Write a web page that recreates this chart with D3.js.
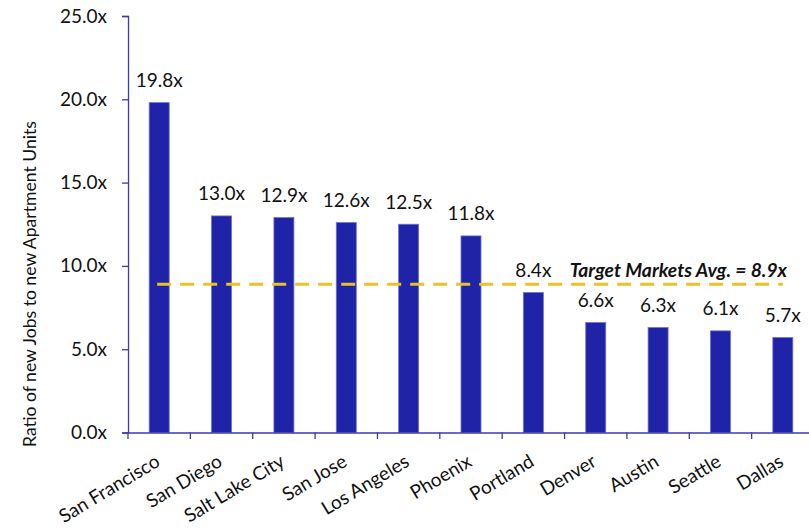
<!DOCTYPE html>
<html><head><meta charset="utf-8">
<script src="https://cdn.jsdelivr.net/npm/d3@7"></script>
<style>body{margin:0;background:#fff}svg text{font-family:Lato,"Open Sans",sans-serif}</style>
</head><body>
<svg id="c" width="809" height="530"></svg>
<script>
const categories=["San Francisco","San Diego","Salt Lake City","San Jose","Los Angeles","Phoenix","Portland","Denver","Austin","Seattle","Dallas"];
const values=[19.8,13.0,12.9,12.6,12.5,11.8,8.4,6.6,6.3,6.1,5.7];
const yTicks=[0,5,10,15,20,25];
const avgValue=8.9;
const avgLabel="Target Markets Avg. = 8.9x";
const yTitle="Ratio of new Jobs to new Apartment Units";

const svg=d3.select("#c");
const x=d3.scaleBand().domain(categories).range([128,814]).paddingInner(0).paddingOuter(0);
const y=d3.scaleLinear().domain([0,25]).range([432.5,16]);
const axisColor="#3a3ab0";
const barColor="#1f23a8";
const fs=19;

// bars
svg.append("g").selectAll("rect").data(values).join("rect")
  .attr("x",(d,i)=>x(categories[i])+x.bandwidth()/2-10)
  .attr("width",20)
  .attr("y",d=>y(d))
  .attr("height",d=>y(0)-y(d))
  .attr("fill",barColor)
  .attr("stroke","#6f72cc").attr("stroke-width",0.8);

// value labels
svg.append("g").selectAll("text").data(values).join("text")
  .attr("x",(d,i)=>x(categories[i])+x.bandwidth()/2)
  .attr("y",d=>y(d)-15.5)
  .attr("text-anchor","middle")
  .attr("font-size",fs).attr("fill","#111")
  .text(d=>d.toFixed(1)+"x");

// avg line
svg.append("line")
  .attr("x1",x(categories[0])+x.bandwidth()/2-2)
  .attr("x2",x(categories[categories.length-1])+x.bandwidth()/2)
  .attr("y1",y(avgValue)).attr("y2",y(avgValue))
  .attr("stroke","#e8c227").attr("stroke-width",3)
  .attr("stroke-dasharray","14,9");
svg.append("text")
  .attr("x",787).attr("y",y(avgValue)-7.5)
  .attr("text-anchor","end").attr("font-size",19.3)
  .attr("font-weight","bold").attr("font-style","italic").attr("fill","#111")
  .text(avgLabel);

// y axis
const ya=svg.append("g").attr("transform","translate(128,0)")
  .call(d3.axisLeft(y).tickValues(yTicks).tickSize(6).tickSizeOuter(6).tickFormat(d=>d.toFixed(1)+"x"));
ya.select(".domain").attr("stroke",axisColor).attr("stroke-width",1.3);
ya.selectAll(".tick line").attr("stroke",axisColor).attr("stroke-width",1.3);
ya.selectAll(".tick text").attr("font-size",fs).attr("fill","#111").attr("x",-21).style("font-family","Lato,sans-serif");

// x axis
const xa=svg.append("g").attr("transform","translate(0,432.5)")
  .call(d3.axisBottom(x).tickSize(0).tickSizeOuter(0));
xa.select(".domain").attr("stroke",axisColor).attr("stroke-width",1.3);
xa.selectAll(".tick text").remove();
xa.selectAll(".tick line").remove();
const bounds=categories.map(c=>x(c));
svg.append("g").selectAll("line").data(bounds).join("line")
  .attr("x1",d=>d).attr("x2",d=>d).attr("y1",432.5).attr("y2",439)
  .attr("stroke",axisColor).attr("stroke-width",1.3);
svg.append("g").selectAll("text").data(categories).join("text")
  .attr("transform",d=>`translate(${x(d)+x.bandwidth()/2+2},465) rotate(-31)`)
  .attr("text-anchor","end")
  .attr("font-size",fs).attr("fill","#111")
  .text(d=>d);

// y title
svg.append("text")
  .attr("transform",`translate(36,284) rotate(-90)`)
  .attr("text-anchor","middle").attr("font-size",17.6).attr("fill","#111")
  .text(yTitle);
</script>
</body></html>
